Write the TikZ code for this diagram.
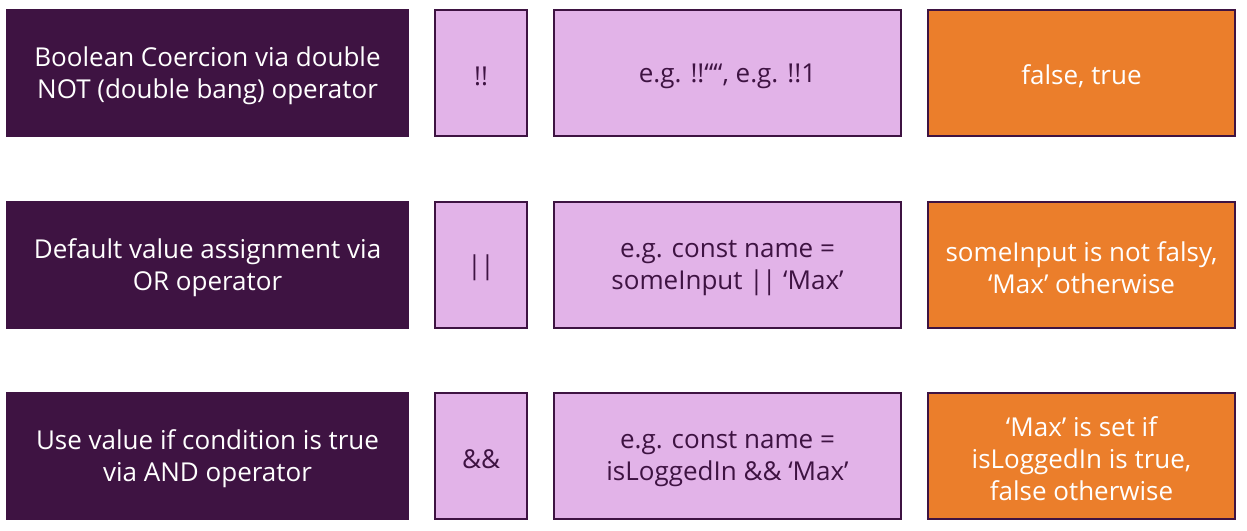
\documentclass[tikz,border=0pt]{standalone}
\usepackage{fontspec}
\setmainfont{Open Sans}
\definecolor{dpurple}{HTML}{3E1342}
\definecolor{lpurple}{HTML}{E2B3E8}
\definecolor{dorange}{HTML}{EB7E2B}
\newcommand{\bars}{|\kern-1.5pt|}
\tikzset{
  base/.style={inner sep=0pt, line width=1.5pt, draw=dpurple, minimum height=126pt},
  darkbox/.style={base, fill=dpurple, minimum width=401pt},
  opbox/.style={base, fill=lpurple, minimum width=92pt},
  exbox/.style={base, fill=lpurple, minimum width=347pt},
  resbox/.style={base, fill=dorange, minimum width=307pt},
  txt/.style={inner sep=0pt, align=center, font=\fontsize{26}{32}\selectfont, yshift=-3pt},
  wtxt/.style={txt, text=white},
  ptxt/.style={txt, text=dpurple},
}
\begin{document}
\begin{tikzpicture}[x=1pt,y=-1pt]
\useasboundingbox (0,0) rectangle (1247,530);
% row 1
\node[darkbox] (d1) at (207.5,73) {};
\node[opbox] (o1) at (481,73) {};
\node[exbox] (e1) at (727.5,73) {};
\node[resbox] (r1) at (1081.5,73) {};
\node[wtxt] (d1t) at (d1.center) {Boolean Coercion via double\\NOT (double bang) operator};
\node[ptxt] (o1t) at (o1.center) {!!};
\node[ptxt] (e1t) at (e1.center) {e.g. !!““, e.g. !!1};
\node[wtxt] (r1t) at (r1.center) {false, true};
% row 2
\node[darkbox] (d2) at (207.5,265) {};
\node[opbox] (o2) at (481,265) {};
\node[exbox] (e2) at (727.5,265) {};
\node[resbox] (r2) at (1081.5,265) {};
\node[wtxt] (d2t) at (d2.center) {Default value assignment via\\OR operator};
\node[ptxt] (o2t) at (o2.center) {\bars};
\node[ptxt] (e2t) at (e2.center) {e.g. const name =\\someInput \bars{} ‘Max’};
\node[wtxt] (r2t) at (r2.center) {someInput is not falsy,\\‘Max’ otherwise};
% row 3
\node[darkbox] (d3) at (207.5,456) {};
\node[opbox] (o3) at (481,456) {};
\node[exbox] (e3) at (727.5,456) {};
\node[resbox] (r3) at (1081.5,456) {};
\node[wtxt] (d3t) at (d3.center) {Use value if condition is true\\via AND operator};
\node[ptxt] (o3t) at (o3.center) {\&\&};
\node[ptxt] (e3t) at (e3.center) {e.g. const name =\\isLoggedIn \&\& ‘Max’};
\node[wtxt] (r3t) at (r3.center) {‘Max’ is set if\\isLoggedIn is true,\\false otherwise};
\end{tikzpicture}
\end{document}
